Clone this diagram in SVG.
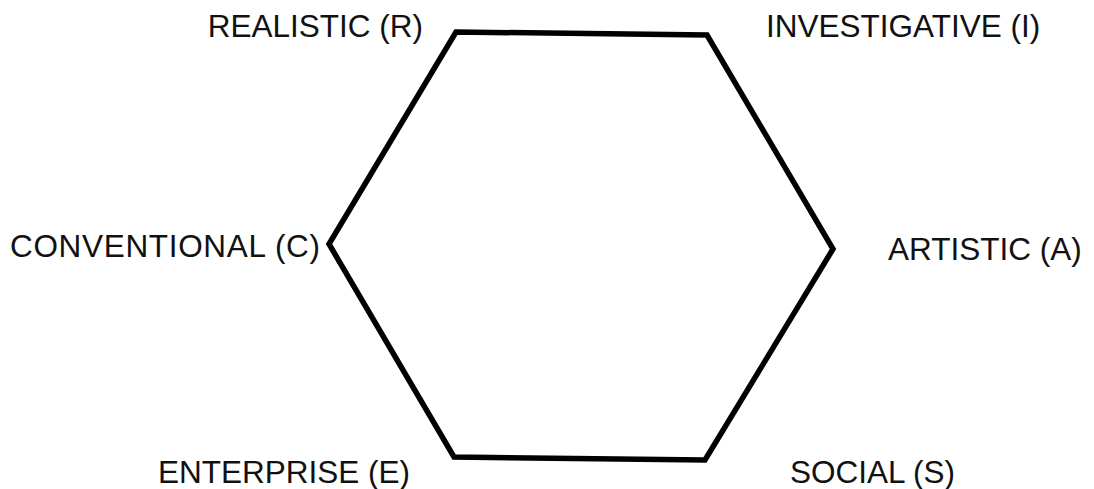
<svg xmlns="http://www.w3.org/2000/svg" width="1094" height="489" viewBox="0 0 1094 489">
<style>
.lbl{font-family:"Liberation Sans",Arial,sans-serif;font-size:31.5px;fill:#111;}
.hex{fill:none;stroke:#000;stroke-width:5.5;stroke-linejoin:miter;}
</style>
<rect width="1094" height="489" fill="#fff"/>
<g id="connectors">
<polygon class="hex" points="456,32 707,35 833,249 705,460 454,457 329,244"/>
</g>
<g id="realistic"><text class="lbl" x="423" y="37" text-anchor="end">REALISTIC (R)</text></g>
<g id="investigative"><text class="lbl" x="766" y="37">INVESTIGATIVE (I)</text></g>
<g id="conventional"><text class="lbl" x="10" y="257" textLength="310">CONVENTIONAL (C)</text></g>
<g id="artistic"><text class="lbl" x="888" y="260">ARTISTIC (A)</text></g>
<g id="enterprise"><text class="lbl" x="158" y="483">ENTERPRISE (E)</text></g>
<g id="social"><text class="lbl" x="790" y="483">SOCIAL (S)</text></g>
</svg>
